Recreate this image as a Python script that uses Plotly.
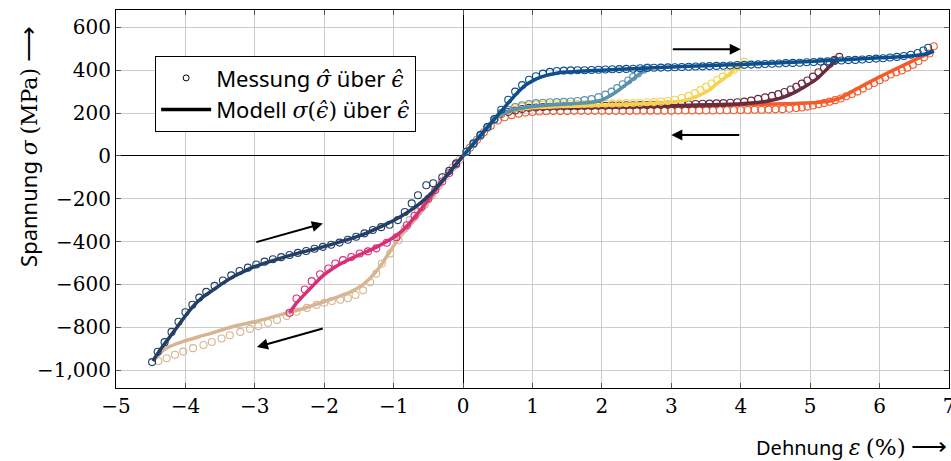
import plotly.graph_objects as go

# ---------------- data: strain (%) / stress (MPa) ----------------
# Model, tension: loading branch up to the largest turning point
zug_bel_x = [0, 0.1, 0.2, 0.3, 0.4, 0.5, 0.6, 0.7, 0.8, 0.9, 1.0, 1.1, 1.2, 1.35, 1.5, 1.75,
             2.0, 2.5, 3.0, 3.5, 4.0, 4.5, 5.0, 5.5, 6.0, 6.3, 6.55, 6.7, 6.78]
zug_bel_y = [0, 38, 76, 114, 152, 190, 228, 265, 300, 330, 350, 365, 376, 386, 391, 396,
             400, 408, 415, 421, 427, 434, 441, 449, 458, 463, 470, 478, 490]

# Model, tension: unloading branches from four turning points
zug_ent1_x = [2.66, 2.55, 2.4, 2.21, 2.01, 1.85, 1.6, 1.3, 1.0, 0.8, 0.65, 0.5, 0.4, 0.2, 0]
zug_ent1_y = [410, 385, 346, 299, 262, 250, 244, 238, 230, 220, 208, 190, 152, 76, 0]

zug_ent2_x = [4.03, 3.9, 3.79, 3.65, 3.55, 3.45, 3.36, 3.17, 2.93, 2.6, 2.2, 1.8, 1.4, 1.0,
              0.8, 0.65, 0.5, 0.4, 0.2, 0]
zug_ent2_y = [432, 400, 369, 335, 308, 290, 277, 258, 249, 243, 238, 234, 230, 225,
              217, 207, 189, 152, 76, 0]

zug_ent3_x = [5.4, 5.25, 5.1, 4.95, 4.8, 4.6, 4.4, 4.2, 4.0, 3.5, 3.0, 2.5, 2.0, 1.5, 1.0,
              0.8, 0.65, 0.5, 0.4, 0.2, 0]
zug_ent3_y = [455, 408, 360, 328, 300, 272, 256, 248, 243, 238, 234, 231, 228, 226, 223,
              216, 206, 189, 152, 76, 0]

zug_ent4_x = [6.78, 6.6, 6.4, 6.2, 6.0, 5.8, 5.6, 5.45, 5.3, 5.1, 4.8, 4.5, 4.0, 3.5, 3.0,
              2.5, 2.0, 1.5, 1.0, 0.8, 0.65, 0.5, 0.4, 0.2, 0]
zug_ent4_y = [490, 462, 432, 400, 369, 335, 300, 272, 257, 249, 245, 242, 238, 234, 231,
              229, 227, 225, 222, 215, 205, 188, 152, 76, 0]

# Model, compression: loading branch and two unloading branches
druck_bel_x = [0, -0.2, -0.48, -0.7, -0.91, -1.05, -1.2, -1.35, -1.49, -1.65, -1.87, -2.01,
               -2.25, -2.5, -2.75, -2.97, -3.31, -3.7, -4.03, -4.27, -4.37, -4.46]
druck_bel_y = [0, -78, -207, -300, -378, -445, -519, -575, -612, -640, -666, -682,
               -708, -730, -753, -772, -797, -835, -866, -897, -923, -958]

druck_ent1_x = [-2.5, -2.4, -2.25, -2.1, -2.0, -1.85, -1.68, -1.5, -1.29, -1.1, -0.96, -0.8,
                -0.67, -0.5, -0.3, 0]
druck_ent1_y = [-733, -688, -635, -585, -555, -520, -490, -462, -433, -400, -372, -325,
                -275, -205, -118, 0]

druck_ent2_x = [-4.47, -4.35, -4.17, -4.03, -3.89, -3.75, -3.6, -3.45, -3.3, -3.15, -3.02,
                -2.8, -2.59, -2.35, -2.11, -1.87, -1.63, -1.4, -1.2, -1.0, -0.81, -0.62,
                -0.45, -0.33, -0.15, 0]
druck_ent2_y = [-958, -900, -822, -760, -703, -660, -626, -592, -562, -538, -519,
                -495, -474, -452, -433, -411, -388, -362, -333, -302, -266, -222,
                -172, -129, -58, 0]

# Measurements
mess_zug_bel_x = [0.05, 0.15, 0.25, 0.35, 0.45, 0.55, 0.65, 0.75, 0.85, 0.95, 1.05, 1.15, 1.25,
                  1.35, 1.45, 1.55, 1.65, 1.75, 1.85, 1.95, 2.05, 2.15, 2.25, 2.35, 2.45, 2.55,
                  2.65, 2.75, 2.85, 2.95, 3.05, 3.15, 3.25, 3.35, 3.45, 3.55, 3.65, 3.75, 3.85,
                  3.95, 4.05, 4.15, 4.25, 4.35, 4.45, 4.55, 4.65, 4.75, 4.85, 4.95, 5.05, 5.15,
                  5.25, 5.35, 5.45, 5.55, 5.65, 5.75, 5.85, 5.95, 6.05, 6.15, 6.25, 6.35, 6.45,
                  6.55, 6.63, 6.7]
mess_zug_bel_y = [20, 58, 98, 135, 172, 215, 262, 300, 330, 355, 372, 384, 392,
                  396, 398, 399, 400, 400, 401, 402, 403, 404, 405, 406, 407, 409,
                  410, 411, 412, 413, 414, 415, 416, 417, 418, 419, 420, 421, 422,
                  424, 425, 426, 427, 429, 430, 431, 433, 434, 435, 437, 438, 440,
                  441, 443, 445, 447, 448, 450, 452, 454, 456, 459, 462, 466, 472,
                  480, 492, 505]

mess_zug_ent1_x = [2.66, 2.6, 2.52, 2.45, 2.38, 2.3, 2.22, 2.14, 2.05, 1.95, 1.85, 1.75, 1.65,
                   1.55, 1.45, 1.35, 1.25, 1.15, 1.05, 0.95, 0.85, 0.75, 0.65, 0.55, 0.45, 0.35,
                   0.25, 0.15, 0.05]
mess_zug_ent1_y = [412, 402, 385, 368, 352, 334, 316, 300, 286, 274, 265, 260, 256,
                   254, 252, 251, 250, 248, 246, 242, 236, 228, 215, 200, 170, 134,
                   95, 57, 19]

mess_zug_ent2_x = [4.05, 3.98, 3.9, 3.82, 3.74, 3.66, 3.58, 3.5, 3.42, 3.34, 3.25, 3.15, 3.05,
                   2.95, 2.85, 2.75, 2.65, 2.55, 2.45, 2.35, 2.25, 2.15, 2.05, 1.95, 1.85, 1.75,
                   1.65, 1.55, 1.45, 1.35, 1.25, 1.15, 1.05, 0.95, 0.85, 0.75, 0.65, 0.55, 0.45,
                   0.35, 0.25, 0.15, 0.05]
mess_zug_ent2_y = [440, 420, 402, 386, 370, 354, 338, 322, 307, 293, 280, 270, 262,
                   256, 253, 251, 250, 248, 247, 246, 245, 245, 244, 244, 243, 243,
                   242, 242, 241, 241, 240, 239, 238, 235, 230, 222, 212, 198, 170,
                   134, 95, 57, 19]

mess_zug_ent3_x = [5.42, 5.35, 5.28, 5.2, 5.12, 5.04, 4.96, 4.88, 4.8, 4.72, 4.63, 4.54, 4.45,
                   4.35, 4.25, 4.15, 4.05, 3.95, 3.85, 3.75, 3.65, 3.55, 3.45, 3.35, 3.25, 3.15,
                   3.05, 2.95, 2.85, 2.75, 2.65, 2.55, 2.45, 2.35, 2.25, 2.15, 2.05, 1.95, 1.85,
                   1.75, 1.65, 1.55, 1.45, 1.35, 1.25, 1.15, 1.05, 0.95, 0.85, 0.75, 0.65, 0.55,
                   0.45, 0.35, 0.25, 0.15, 0.05]
mess_zug_ent3_y = [462, 448, 430, 410, 390, 370, 352, 337, 322, 310, 298, 288, 280,
                   273, 266, 258, 253, 250, 248, 246, 245, 244, 243, 242, 241, 240,
                   240, 239, 238, 238, 237, 237, 236, 236, 235, 235, 234, 234, 233,
                   233, 232, 232, 231, 230, 229, 228, 226, 224, 219, 212, 205, 195,
                   168, 132, 94, 56, 18]

mess_zug_ent4_x = [6.78, 6.72, 6.64, 6.56, 6.48, 6.4, 6.32, 6.24, 6.16, 6.08, 6.0, 5.92, 5.84,
                   5.76, 5.68, 5.6, 5.52, 5.44, 5.36, 5.28, 5.2, 5.12, 5.04, 4.96, 4.88, 4.8,
                   4.7, 4.6, 4.5, 4.4, 4.3, 4.2, 4.1, 4.0, 3.9, 3.8, 3.7, 3.6, 3.5, 3.4, 3.3,
                   3.2, 3.1, 3.0, 2.9, 2.8, 2.7, 2.6, 2.5, 2.4, 2.3, 2.2, 2.1, 2.0, 1.9, 1.8,
                   1.7, 1.6, 1.5, 1.4, 1.3, 1.2, 1.1, 1.0, 0.9, 0.8, 0.7, 0.6, 0.5, 0.4, 0.3,
                   0.2, 0.1]
mess_zug_ent4_y = [512, 478, 460, 442, 425, 411, 399, 390, 380, 366, 353, 340, 327,
                   314, 301, 289, 278, 268, 260, 253, 247, 241, 235, 230, 226, 223,
                   220, 218, 217, 216, 215, 215, 214, 214, 213, 213, 213, 212, 212, 212, 212,
                   212, 212, 211, 211, 211, 211, 211, 211, 210, 210, 210, 210, 210, 210, 210,
                   210, 210, 209, 209, 209, 208, 207, 205, 202, 197, 190, 180, 165, 140, 110,
                   75, 38]

mess_druck_bel_x = [-0.05, -0.15, -0.25, -0.35, -0.45, -0.55, -0.65, -0.77, -0.84, -0.93, -1.05,
                    -1.17, -1.25, -1.34, -1.44, -1.55, -1.66, -1.77, -1.89, -2.0, -2.11, -2.25,
                    -2.4, -2.54, -2.68, -2.81, -2.95, -3.07, -3.21, -3.36, -3.48, -3.62, -3.74,
                    -3.89, -4.03, -4.15, -4.27, -4.39]
mess_druck_bel_y = [-18, -55, -95, -140, -185, -228, -262, -300, -339, -394, -456,
                    -503, -550, -590, -628, -650, -665, -672, -678, -686, -696, -710,
                    -728, -748, -766, -780, -795, -808, -822, -838, -853, -869, -883,
                    -898, -914, -929, -945, -958]

mess_druck_ent1_x = [-2.5, -2.4, -2.28, -2.18, -2.06, -1.94, -1.84, -1.73, -1.61, -1.49, -1.37,
                     -1.25, -1.1, -0.96, -0.81, -0.7, -0.6, -0.5, -0.4, -0.3, -0.2, -0.1]
mess_druck_ent1_y = [-733, -666, -624, -585, -553, -526, -503, -487, -472, -456, -446,
                     -432, -406, -380, -324, -280, -240, -200, -160, -120, -80, -40]

mess_druck_ent2_x = [-4.48, -4.4, -4.3, -4.2, -4.1, -4.0, -3.9, -3.8, -3.7, -3.58, -3.46, -3.34,
                     -3.22, -3.1, -2.98, -2.86, -2.74, -2.62, -2.5, -2.38, -2.26, -2.14, -2.02,
                     -1.9, -1.78, -1.66, -1.54, -1.42, -1.3, -1.18, -1.06, -0.94, -0.84, -0.74,
                     -0.65, -0.53, -0.43, -0.3, -0.2, -0.1]
mess_druck_ent2_y = [-963, -915, -870, -822, -775, -730, -695, -662, -635, -607, -582, -558,
                     -538, -522, -507, -494, -483, -473, -463, -453, -444, -434, -425,
                     -415, -405, -392, -378, -362, -346, -333, -322, -300, -262, -222,
                     -184, -137, -128, -100, -70, -35]

x_ticks = [-5, -4, -3, -2, -1, 0, 1, 2, 3, 4, 5, 6, 7]
x_tick_labels = ["−5", "−4", "−3", "−2", "−1", "0", "1", "2", "3", "4", "5", "6", "7"]
y_ticks = [-1000, -800, -600, -400, -200, 0, 200, 400, 600]
y_tick_labels = ["−1,000", "−800", "−600", "−400", "−200", "0", "200", "400", "600"]

# ---------------- styling ----------------
SANS = "Noto Sans"
SERIF = "DejaVu Serif"
LINE_W = 3.5

series = [
    # (measure x, measure y, model x, model y, colour)
    (mess_druck_bel_x, mess_druck_bel_y, druck_bel_x, druck_bel_y, "#d7b592"),
    (mess_druck_ent1_x, mess_druck_ent1_y, druck_ent1_x, druck_ent1_y, "#d83078"),
    (mess_druck_ent2_x, mess_druck_ent2_y, druck_ent2_x, druck_ent2_y, "#233f66"),
    (mess_zug_ent4_x, mess_zug_ent4_y, zug_ent4_x, zug_ent4_y, "#f45a2a"),
    (mess_zug_ent3_x, mess_zug_ent3_y, zug_ent3_x, zug_ent3_y, "#6b2b3f"),
    (mess_zug_ent2_x, mess_zug_ent2_y, zug_ent2_x, zug_ent2_y, "#f5d34e"),
    (mess_zug_ent1_x, mess_zug_ent1_y, zug_ent1_x, zug_ent1_y, "#5a93b0"),
    (mess_zug_bel_x, mess_zug_bel_y, zug_bel_x, zug_bel_y, "#0d4e8c"),
]

fig = go.Figure()
for mx, my, lx, ly, col in series:
    fig.add_trace(go.Scatter(x=mx, y=my, mode="markers", showlegend=False,
                             marker=dict(symbol="circle-open", size=7, color=col,
                                         line=dict(width=1.1, color=col))))
    fig.add_trace(go.Scatter(x=lx, y=ly, mode="lines", showlegend=False,
                             line=dict(color=col, width=LINE_W, shape="spline", smoothing=0.6)))

def serif(s, size=None):
    sz = f";font-size:{size}px" if size else ""
    return f'<span style="font-family:{SERIF}{sz}">{s}</span>'

def serif_it(s, size=None):
    sz = f";font-size:{size}px" if size else ""
    return f'<span style="font-family:{SERIF}{sz}"><i>{s}</i></span>'

def long_arrow(size):
    return f'<span style="font-size:{size}px">⟶</span>'

# legend entries
fig.add_trace(go.Scatter(x=[None], y=[None], mode="markers",
                         name=f"Messung {serif_it('σ̂')} über {serif_it('ϵ̂')}",
                         marker=dict(symbol="circle-open", size=6, color="black",
                                     line=dict(width=1, color="black"))))
fig.add_trace(go.Scatter(x=[None], y=[None], mode="lines",
                         name=f"Modell {serif_it('σ')}{serif('(')}{serif_it('ϵ̂')}{serif(')')} über {serif_it('ϵ̂')}",
                         line=dict(color="black", width=LINE_W)))

# direction arrows
arrows = [((3.0, 498), (4.0, 498)), ((4.0, 97), (3.0, 97)),
          ((-3.0, -405), (-2.02, -316)), ((-2.0, -804), (-2.97, -893))]
for (x0, y0), (x1, y1) in arrows:
    fig.add_annotation(x=x1, y=y1, ax=x0, ay=y0, xref="x", yref="y", axref="x", ayref="y",
                       text="", showarrow=True, arrowhead=2, arrowsize=1.1,
                       arrowwidth=2, arrowcolor="black")

axis_common = dict(showgrid=True, gridcolor="#cccccc", gridwidth=1,
                   showline=True, linecolor="black", linewidth=1, mirror="ticks",
                   ticks="inside", ticklen=5, tickcolor="#555555", tickwidth=1,
                   zeroline=True, zerolinecolor="black", zerolinewidth=1,
                   ticklabeloverflow="allow", automargin=False,
                   tickfont=dict(family=SERIF, size=20, color="black"))

fig.update_xaxes(range=[-5, 7], tickvals=x_ticks, ticktext=x_tick_labels, **axis_common)
fig.update_yaxes(range=[-1084, 681], tickvals=y_ticks, ticktext=y_tick_labels, **axis_common)

fig.add_annotation(xref="paper", yref="paper", x=1.0, y=-0.15, xanchor="right", yanchor="middle",
                   showarrow=False, font=dict(family=SANS, size=20, color="black"),
                   text=f"Dehnung {serif_it('ε', 22)} {serif('(%)', 23)} {long_arrow(25)}")
fig.add_annotation(xref="paper", yref="paper", x=-0.107, y=0.64, xanchor="center", yanchor="middle",
                   textangle=-90, showarrow=False, font=dict(family=SANS, size=22, color="black"),
                   text=f"Spannung {serif_it('σ')} {serif('(MPa)')} {long_arrow(25)}")

fig.update_layout(
    width=951, height=461,
    margin=dict(l=116, r=2, t=10, b=73, autoexpand=False),
    plot_bgcolor="white", paper_bgcolor="white",
    showlegend=True,
    legend=dict(x=0.047, y=0.878, xanchor="left", yanchor="top",
                bgcolor="white", bordercolor="black", borderwidth=1,
                itemwidth=50,
                font=dict(family=SANS, size=22, color="black")),
)

fig.write_html("out.html")
